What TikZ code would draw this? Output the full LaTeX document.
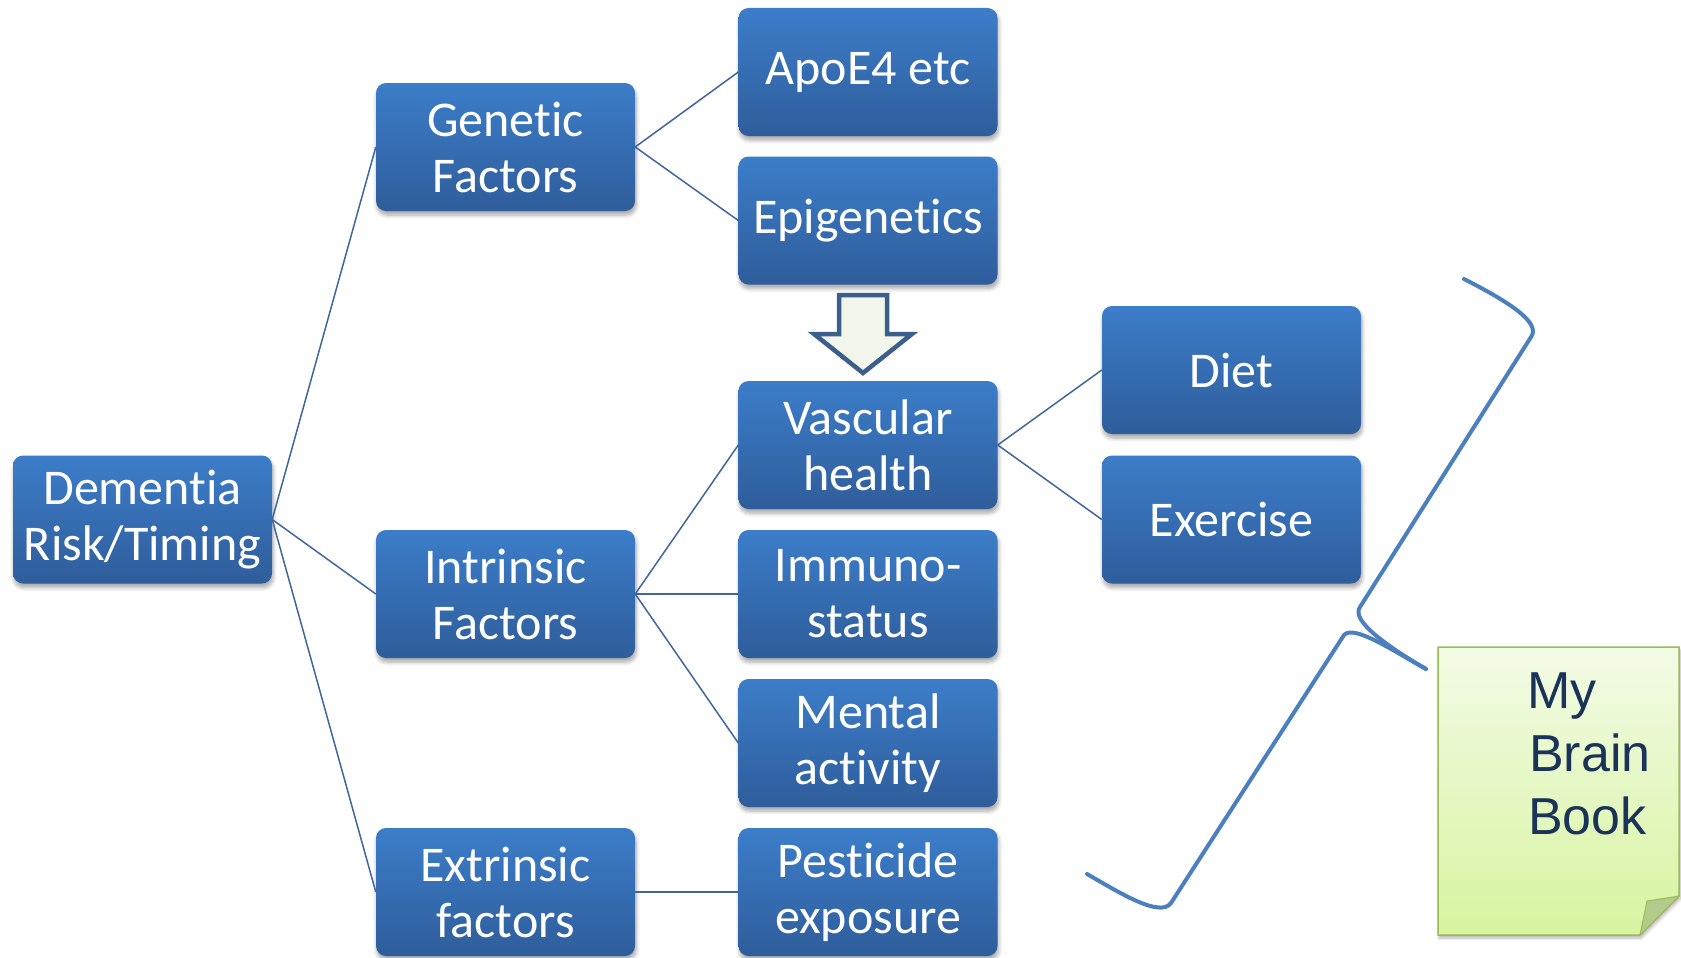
\documentclass[tikz,border=0pt]{standalone}
\usepackage{fontspec}
\usetikzlibrary{shadows.blur}
\newfontfamily\boxfont[Ligatures=NoCommon]{Carlito}
\newfontfamily\notefont{Liberation Sans}
\definecolor{boxtop}{HTML}{3C7DC9}
\definecolor{boxbot}{HTML}{2F5D9B}
\definecolor{linkcol}{HTML}{40659F}
\definecolor{bracecol}{HTML}{4B7FBD}
\definecolor{arrowline}{HTML}{3B5E8C}
\definecolor{arrowfill}{HTML}{F1F5EA}
\definecolor{notetop}{HTML}{F3FBE6}
\definecolor{notebot}{HTML}{D7F4A0}
\definecolor{noteedge}{HTML}{9BBB59}
\definecolor{notefold}{HTML}{B3CB8A}
\definecolor{notetext}{HTML}{1B3358}
\tikzset{
  factor/.style={rounded corners=10pt, top color=boxtop, bottom color=boxbot,
    minimum width=259pt, minimum height=128pt, inner sep=0pt, align=center,
    text=white, font=\boxfont\fontsize{50}{56}\selectfont,
    blur shadow={shadow xshift=1pt, shadow yshift=-4pt, shadow blur steps=6,
      shadow blur radius=4pt, shadow opacity=35}},
  link/.style={draw=linkcol, line width=1.5pt},
  brace/.style={draw=bracecol, line width=4pt, line cap=round, line join=round},
}
\begin{document}
\begin{tikzpicture}[x=1pt, y=-1pt]
\useasboundingbox (0,0) rectangle (1681,958);

% factor boxes
\node[factor] (dem)  at (142.5,519.5) {Dementia\\Risk/Timing};
\node[factor] (gen)  at (505.5,147)   {Genetic\\Factors};
\node[factor] (intr) at (505.5,594)   {Intrinsic\\Factors};
\node[factor] (extr) at (505.5,892)   {Extrinsic\\factors};
\node[factor] (apo)  at (868,72)      {ApoE4 etc};
\node[factor] (epi)  at (868,220.5)   {Epigenetics};
\node[factor] (vasc) at (868,445)     {Vascular\\health};
\node[factor] (imm)  at (868,594)     {Immuno-\\status};
\node[factor] (ment) at (868,743)     {Mental\\activity};
\node[factor] (pest) at (868,892)     {Pesticide\\exposure};
\node[factor] (diet) at (1231.5,370)  {Diet};
\node[factor] (exer) at (1231.5,519.5){Exercise};

% tree connectors
\draw[link] (dem.east) -- (gen.west);
\draw[link] (dem.east) -- (intr.west);
\draw[link] (dem.east) -- (extr.west);
\draw[link] (gen.east) -- (apo.west);
\draw[link] (gen.east) -- (epi.west);
\draw[link] (intr.east) -- (vasc.west);
\draw[link] (intr.east) -- (imm.west);
\draw[link] (intr.east) -- (ment.west);
\draw[link] (extr.east) -- (pest.west);
\draw[link] (vasc.east) -- (diet.west);
\draw[link] (vasc.east) -- (exer.west);

% block arrow from epigenetics down to vascular health
\draw[draw=arrowline, fill=arrowfill, line width=4.5pt, line join=miter]
  (839,295) -- (887,295) -- (887,334) -- (912,334) -- (863,373)
  -- (814,334) -- (839,334) -- cycle;

% curly brace
\draw[brace] (1464,279) .. controls (1505,300) and (1542,322) .. (1531,337)
  -- (1360,607) .. controls (1350,621) and (1390,648) .. (1426,669);
\draw[brace] (1426,669) .. controls (1395,652) and (1354,624) .. (1344,635)
  -- (1171,903) .. controls (1160,918) and (1120,893) .. (1087,874);

% sticky note
\path[top color=notetop, bottom color=notebot, draw=noteedge, line width=1.5pt,
  blur shadow={shadow xshift=1pt, shadow yshift=-3pt, shadow blur steps=5,
    shadow blur radius=3pt, shadow opacity=30}]
  (1438,647) -- (1679,647) -- (1679,896) -- (1640,935) -- (1438,935) -- cycle;
\draw[fill=notefold, draw=noteedge, line width=1pt, line join=round]
  (1640,935) -- (1647,901) -- (1679,896) -- cycle;
\node[anchor=north west, inner sep=0pt, align=left, text=notetext,
  font=\notefont\fontsize{52}{63}\selectfont] (note) at (1527,673)
  {My\\\hspace*{2pt}Brain\\\hspace*{1pt}Book};
\end{tikzpicture}
\end{document}
